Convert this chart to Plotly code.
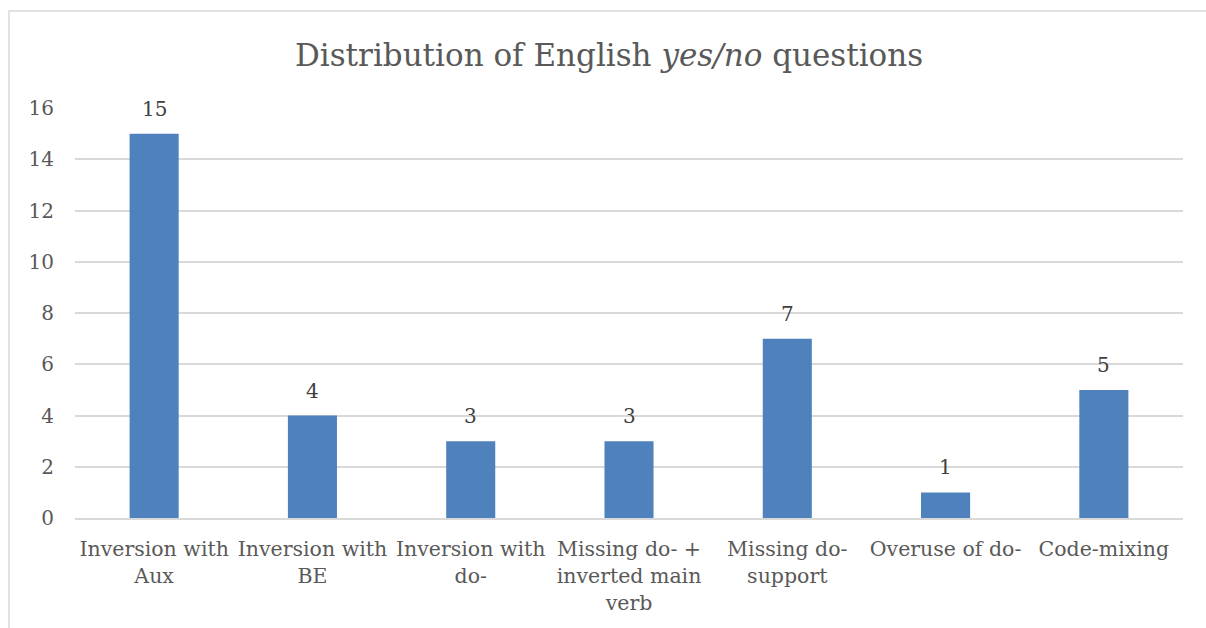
import plotly.graph_objects as go

categories = [
    "Inversion with<br>Aux",
    "Inversion with<br>BE",
    "Inversion with<br>do-",
    "Missing do- +<br>inverted main<br>verb",
    "Missing do-<br>support",
    "Overuse of do-",
    "Code-mixing",
]
counts = [15, 4, 3, 3, 7, 1, 5]
y_ticks = [0, 2, 4, 6, 8, 10, 12, 14, 16]

FONT = "DejaVu Serif, Liberation Serif, serif"
W, H = 1206, 628
L, R, T, B = 75, 23, 108, 110
pw, ph = W - L - R, H - T - B

fig = go.Figure(
    go.Bar(
        x=categories,
        y=counts,
        marker=dict(color="#4F81BD", line=dict(width=0)),
        hoverinfo="x+y",
    )
)

# value labels above each bar
for cat, val in zip(categories, counts):
    fig.add_annotation(
        x=cat,
        y=val,
        text=str(val),
        showarrow=False,
        yanchor="middle",
        yshift=25,
        font=dict(family=FONT, size=20, color="#404040"),
    )

fig.update_layout(
    width=W,
    height=H,
    margin=dict(l=L, r=R, t=T, b=B),
    paper_bgcolor="white",
    plot_bgcolor="white",
    bargap=0.69,
    showlegend=False,
    title=dict(
        text="Distribution of English <i>yes/no</i> questions",
        x=0.505,
        xanchor="center",
        y=1 - 55 / H,
        yanchor="middle",
        font=dict(family=FONT, size=31, color="#595959"),
    ),
    font=dict(family=FONT, color="#595959"),
)

fig.update_yaxes(
    range=[0, 16],
    tickvals=y_ticks,
    showgrid=True,
    gridcolor="#D9D9D9",
    gridwidth=1.5,
    zeroline=False,
    showline=False,
    ticks="",
    ticklabelstandoff=20,
    tickfont=dict(family=FONT, size=20, color="#595959"),
)
fig.update_xaxes(
    showline=True,
    linecolor="#D9D9D9",
    linewidth=1.5,
    ticks="",
    tickangle=0,
    ticklabelstandoff=12,
    tickfont=dict(family=FONT, size=20.5, color="#595959"),
)

# chart frame
fig.add_shape(
    type="rect",
    xref="paper",
    yref="paper",
    x0=(9 - L) / pw,
    x1=(W + 20 - L) / pw,
    y0=-(B + 20) / ph,
    y1=(H - B - 11) / ph,
    line=dict(color="#D9D9D9", width=1.5),
    fillcolor="rgba(0,0,0,0)",
    layer="below",
)

fig.write_html("out.html")
